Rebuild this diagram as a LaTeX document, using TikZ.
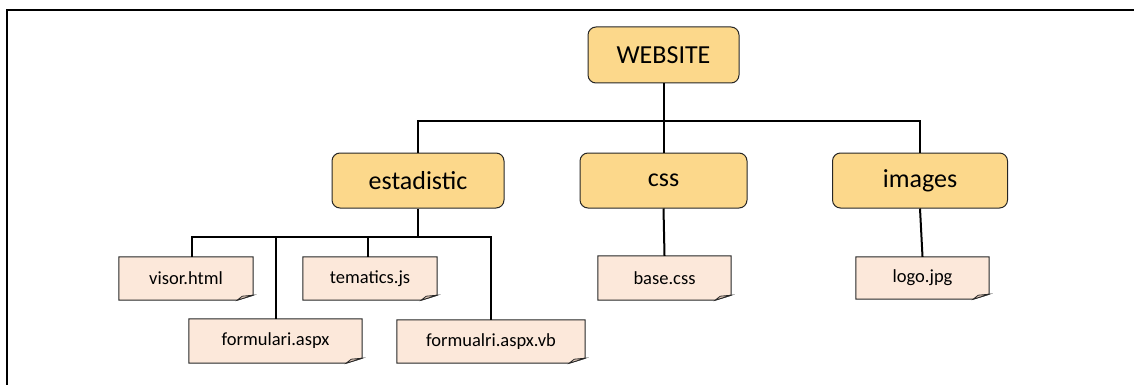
\documentclass[tikz,border=0pt]{standalone}
\usepackage{fontspec}
\setmainfont{Carlito}
\usetikzlibrary{positioning,backgrounds}
\definecolor{folderfill}{HTML}{FCD88B}
\definecolor{filefill}{HTML}{FCE8DA}
\definecolor{foldfill}{HTML}{E6CDBD}
\tikzset{
  folder/.style={draw=black!85,fill=folderfill,rounded corners=8pt,line width=1pt,
    inner sep=0pt,font=\fontsize{26}{30}\selectfont},
  file/.style={inner sep=0pt,font=\fontsize{18.5}{22}\selectfont},
  link/.style={line width=2pt}
}
\begin{document}
\begin{tikzpicture}[x=1pt,y=-1pt]
\useasboundingbox (0,0) rectangle (1134,385);
\begin{scope}
\clip (0,0) rectangle (1134,385);
\draw[line width=1.5pt] (7,10) rectangle (1150,400);
\end{scope}
% folders
\node[folder,minimum width=151pt,minimum height=56pt] (web) at (663.5,55) {WEBSITE};
\node[folder,minimum width=172pt,minimum height=55pt] (est) at (418,180.5) {estadistic};
\node[folder,minimum width=167pt,minimum height=55pt] (css) at (663.5,180.5) {css};
\node[folder,minimum width=175pt,minimum height=55pt] (img) at (920,180.5) {images};
% files
\node[file,minimum width=134pt,minimum height=43pt] (visor) at (186,278.5) {visor.html};
\node[file,minimum width=173pt,minimum height=44pt] (form) at (275.5,341) {formulari.aspx};
\node[file,minimum width=134pt,minimum height=43pt] (tem) at (370,278.5) {tematics.js};
\node[file,minimum width=188pt,minimum height=43pt] (vb) at (491,341.5) {formualri.aspx.vb};
\node[file,minimum width=133pt,minimum height=44pt] (base) at (664.5,278) {base.css};
\node[file,minimum width=133pt,minimum height=42pt] (logo) at (922.5,278) {logo.jpg};
\begin{scope}[on background layer]
\foreach \f in {visor,form,tem,vb,base,logo}{
  \filldraw[fill=filefill,draw=black!85,line width=1pt] (\f.north west) -- (\f.north east)
    -- ([yshift=5pt]\f.south east) -- ([xshift=-16pt]\f.south east) -- (\f.south west) -- cycle;
  \filldraw[fill=foldfill,draw=black!85,line width=.8pt] ([xshift=-16pt]\f.south east)
    -- ([xshift=-11pt,yshift=4pt]\f.south east) -- ([yshift=5pt]\f.south east) -- cycle;
}
\end{scope}
% connectors
\coordinate (bus1) at (663.5,121);
\coordinate (bus2) at (418,237);
\draw[link] (web.south) -- (bus1);
\draw[link] (est.north) |- (bus1) -| (img.north);
\draw[link] (bus1) -- (css.north);
\draw[link] (est.south) -- (bus2);
\draw[link] ([xshift=6pt]visor.north) |- (bus2) -| (vb.north);
\draw[link] (form.north) -- (form.north |- bus2);
\draw[link] ([xshift=-2pt]tem.north) -- ([xshift=-2pt]tem.north |- bus2);
\draw[link] (css.south) -- (base.north);
\draw[link] (img.south) -- (logo.north);
\end{tikzpicture}
\end{document}
